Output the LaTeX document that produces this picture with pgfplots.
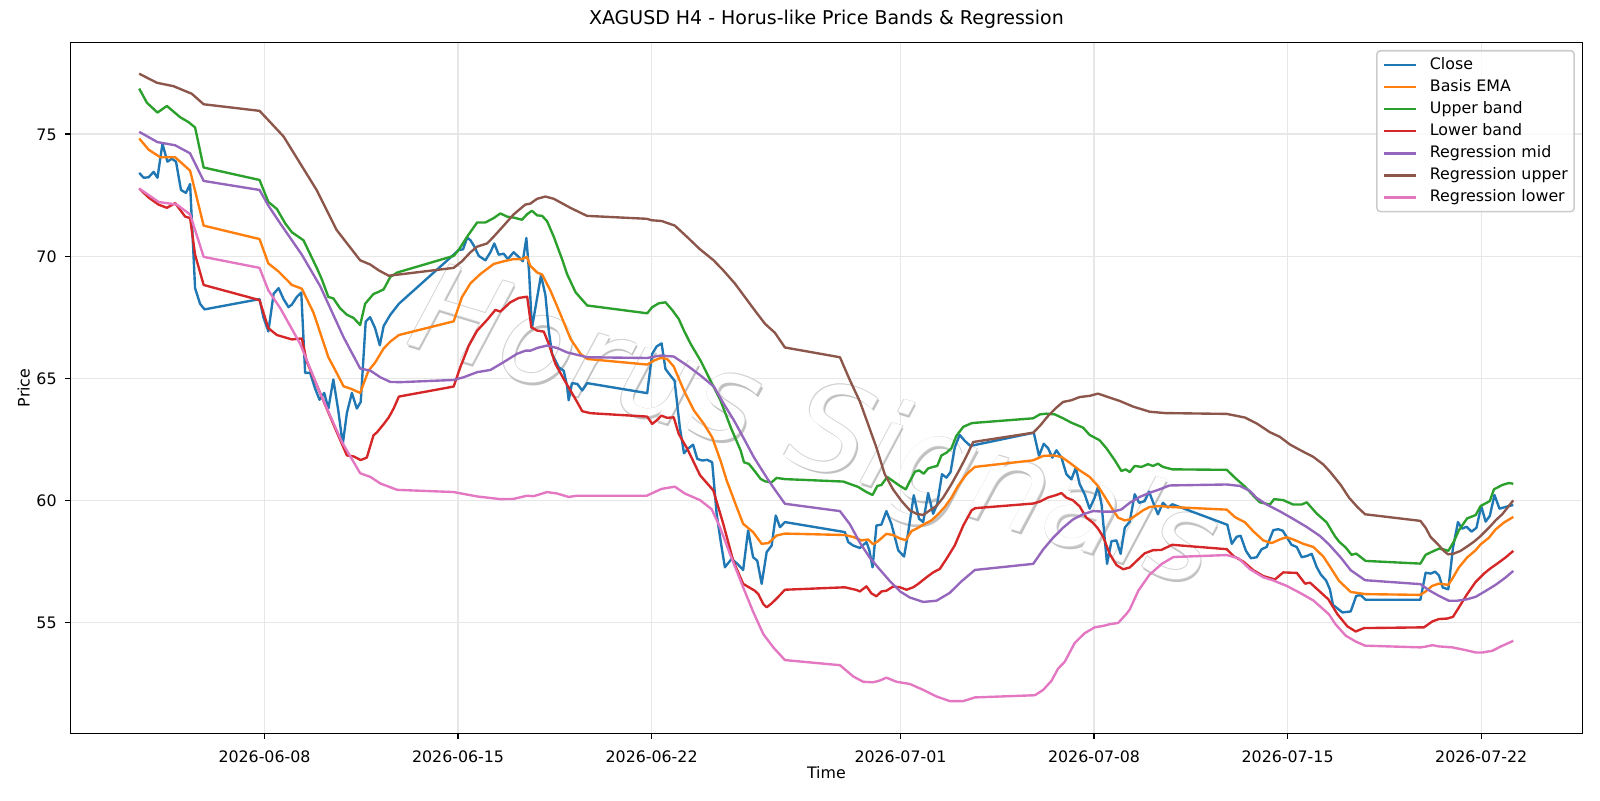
\documentclass[border=0pt]{standalone}
\usepackage{fontspec}
\setmainfont{DejaVu Sans}
\usepackage{pgfplots}
\pgfplotsset{compat=1.18}

\definecolor{cClose}{HTML}{1F77B4}
\definecolor{cEMA}{HTML}{FF7F0E}
\definecolor{cUp}{HTML}{2CA02C}
\definecolor{cLow}{HTML}{D62728}
\definecolor{cMid}{HTML}{9467BD}
\definecolor{cRUp}{HTML}{8C564B}
\definecolor{cRLow}{HTML}{E377C2}
\definecolor{gridgray}{HTML}{E7E7E7}
\definecolor{wmline}{HTML}{D2D2D2}
\definecolor{wmshadow}{HTML}{B0B0B0}
\tikzset{wm/.style={rotate=-17, font=\fontsize{88}{88}\selectfont\itshape}}

% x values are days after 2026-06-01 (00:00)
\begin{document}
\begin{tikzpicture}
\path[use as bounding box] (-50.95pt,-48.2pt) rectangle (1105.2pt,529.9pt);
\begin{axis}[
  at={(0,0)}, anchor=south west,
  width=1092.4pt, height=499.2pt, scale only axis,
  xmin=-0.015, xmax=54.655, ymin=50.46, ymax=78.75,
  xtick={7,14,21,30,37,44,51},
  xticklabels={\mbox{2026-06-08},\mbox{2026-06-15},\mbox{2026-06-22},\mbox{2026-07-01},\mbox{2026-07-08},\mbox{2026-07-15},\mbox{2026-07-22}},
  ytick={55,60,65,70,75},
  /pgf/number format/assume math mode=true,
  tick label style={font=\fontsize{11.43}{13}\selectfont},
  xticklabel style={anchor=base, yshift=-16.8pt},
  yticklabel style={anchor=base east, xshift=-2.5pt, yshift=-4.34pt},
  tick align=outside, tick pos=left,
  major tick length=4pt,
  every tick/.style={black, line width=0.914pt},
  axis line style={line width=0.914pt},
  grid=major, grid style={gridgray, line width=0.914pt},
  title={XAGUSD H4 - Horus-like Price Bands \& Regression},
  title style={at={(axis description cs:0.5,1.01374)}, anchor=base, font=\fontsize{13.71}{16}\selectfont},
  xlabel={Time},
  xlabel style={at={(axis description cs:0.5,-0.0653)}, anchor=base, font=\fontsize{11.43}{13}\selectfont},
  ylabel={Price},
  ylabel style={at={(axis description cs:-0.027,0.5)}, anchor=base, rotate=0, font=\fontsize{11.43}{13}\selectfont},
  every axis plot/.append style={line width=1.714pt, line join=round, no markers},
  legend cell align=left,
  legend image code/.code={\draw[#1] (0pt,0pt) -- (22.9pt,0pt);},
  legend style={at={(0.99515,0.98918)}, anchor=north east,
    draw=black!20, line width=1.14pt, fill=white, fill opacity=0.8, draw opacity=1, text opacity=1,
    rounded corners=2.5pt, font=\fontsize{11.43}{13}\selectfont,
    inner xsep=4.57pt, inner ysep=4.57pt, row sep=4.9pt,
    nodes={inner sep=0pt, text height=8.7pt, text depth=2.4pt},
    /tikz/every odd column/.append style={column sep=9.1pt}},
]

% watermark, drawn first so that the series lie over it
\node[wm, text=wmshadow, opacity=0.8, xshift=1.6pt, yshift=-1.6pt] at (axis cs:26.82,62.75) {Horus Signals};
\node[wm, text=wmline, xshift=0.45pt] at (axis cs:26.82,62.75) {Horus Signals};
\node[wm, text=wmline, xshift=-0.45pt] at (axis cs:26.82,62.75) {Horus Signals};
\node[wm, text=wmline, yshift=0.45pt] at (axis cs:26.82,62.75) {Horus Signals};
\node[wm, text=wmline, yshift=-0.45pt] at (axis cs:26.82,62.75) {Horus Signals};
\node[wm, text=white] at (axis cs:26.82,62.75) {Horus Signals};

% Close
\addplot[cClose] coordinates {
(2.47,73.41) (2.63,73.21) (2.81,73.23) (2.99,73.45) (3.13,73.21) (3.31,74.60) (3.49,73.87) (3.65,73.99) (3.80,73.87) (3.98,72.71) (4.16,72.59) (4.31,72.95) (4.49,68.69) (4.67,68.05) (4.83,67.82)
(6.82,68.24) (6.96,67.50) (7.14,66.92) (7.33,68.46) (7.51,68.69) (7.69,68.24) (7.87,67.91) (7.99,68.02) (8.17,68.33) (8.33,68.51) (8.47,65.22) (8.65,65.22) (8.83,64.58) (8.99,64.12) (9.16,64.40) (9.31,63.76) (9.49,64.95) (9.67,63.67) (9.83,62.29) (9.98,63.58) (10.16,64.40) (10.34,63.76) (10.48,64.03) (10.66,67.32) (10.82,67.50) (11.00,67.05) (11.17,66.35) (11.31,67.14) (11.55,67.60) (11.86,68.05)
(13.84,70.06) (14.02,70.25) (14.18,70.28) (14.33,70.76) (14.45,70.65) (14.57,70.43) (14.75,70.01) (14.99,69.83) (15.17,70.16) (15.31,70.52) (15.47,70.06) (15.65,70.10) (15.80,69.88) (16.01,70.16) (16.19,69.97) (16.34,69.79) (16.47,70.74) (16.57,69.33) (16.67,67.05) (16.83,68.10) (17.00,69.22) (17.16,68.40) (17.28,66.95) (17.40,66.00) (17.64,65.45) (17.82,65.31) (17.94,64.70) (18.00,64.10) (18.12,64.80) (18.31,64.77) (18.49,64.50) (18.67,64.80)
(20.84,64.39) (21.02,66.00) (21.18,66.30) (21.36,66.43) (21.50,65.38) (21.68,65.11) (21.83,64.90) (22.02,62.99) (22.17,61.93) (22.31,62.11) (22.50,62.28) (22.65,61.70) (22.83,61.63) (23.01,61.66) (23.19,61.56) (23.35,59.46) (23.50,58.30) (23.65,57.26) (23.89,57.60) (24.10,57.40) (24.31,57.15) (24.49,58.77) (24.67,57.67) (24.82,57.53) (24.98,56.58) (25.16,57.88) (25.34,58.15) (25.49,59.38) (25.64,58.90) (25.82,59.11)
(27.99,58.70) (28.11,58.29) (28.29,58.15) (28.53,58.05) (28.77,58.29) (28.87,57.97) (28.99,57.26) (29.13,58.97) (29.31,59.01) (29.49,59.56) (29.67,59.04) (29.92,57.95) (30.13,57.70) (30.28,58.70) (30.48,60.21) (30.67,59.25) (30.82,59.11) (31.00,60.30) (31.18,59.45) (31.33,59.86) (31.50,61.07) (31.66,60.93) (31.81,61.16) (31.96,62.16) (32.14,62.68) (32.33,62.43) (32.53,62.23)
(34.82,62.77) (35.01,61.82) (35.18,62.32) (35.34,62.13) (35.49,61.75) (35.64,62.05) (35.82,61.75) (36.00,61.07) (36.18,60.86) (36.34,61.34) (36.48,60.66) (36.66,60.25) (36.84,59.66) (37.02,60.11) (37.14,60.55) (37.27,59.84) (37.47,57.40) (37.63,58.33) (37.81,58.36) (37.96,57.81) (38.11,58.88) (38.29,59.13) (38.47,60.25) (38.63,59.90) (38.83,59.97) (38.99,60.36) (39.16,59.84) (39.31,59.43) (39.49,59.90) (39.67,59.70) (39.83,59.84)
(41.82,59.00) (41.98,58.22) (42.16,58.51) (42.30,58.55) (42.49,57.94) (42.67,57.63) (42.88,57.67) (43.06,58.00) (43.24,58.09) (43.48,58.78) (43.66,58.82) (43.82,58.76) (43.96,58.51) (44.14,58.18) (44.33,58.09) (44.51,57.67) (44.69,57.72) (44.87,57.81) (45.05,57.27) (45.20,56.96) (45.39,56.72) (45.53,56.35) (45.64,55.72) (45.98,55.41) (46.28,55.45) (46.48,56.09) (46.64,56.12) (46.82,55.93)
(48.80,55.93) (48.99,57.04) (49.17,57.00) (49.33,57.08) (49.47,56.93) (49.61,56.43) (49.81,56.36) (49.98,58.07) (50.16,59.11) (50.31,58.84) (50.47,58.92) (50.65,58.72) (50.83,58.88) (51.00,59.77) (51.16,59.13) (51.31,59.36) (51.48,60.22) (51.66,59.66) (51.88,59.73) (52.16,59.81)
};
\addlegendentry{Close}

% Basis EMA
\addplot[cEMA] coordinates {
(2.47,74.82) (2.81,74.36) (3.23,74.05) (3.77,74.05) (4.31,73.50) (4.80,71.25) (6.82,70.70) (7.14,69.70) (7.51,69.37) (7.99,68.82) (8.35,68.67) (8.77,67.69) (9.31,65.86) (9.55,65.35) (9.86,64.67) (10.10,64.58) (10.46,64.40) (10.76,65.31) (11.00,65.64) (11.31,66.22) (11.55,66.50) (11.86,66.77)
(13.84,67.33) (14.14,68.32) (14.45,68.89) (14.81,69.27) (15.29,69.68) (15.65,69.79) (16.01,69.88) (16.31,69.88) (16.49,69.97) (16.61,69.61) (16.86,69.33) (17.04,69.25) (17.34,68.59) (17.70,67.63) (18.07,66.61) (18.43,66.00) (18.67,65.79)
(20.84,65.56) (21.08,65.72) (21.32,65.83) (21.56,65.79) (21.80,65.48) (22.17,64.49) (22.53,63.68) (22.89,63.13) (23.19,62.58) (23.49,61.63) (23.71,60.83) (24.07,59.74) (24.31,59.04) (24.67,58.70) (24.98,58.22) (25.22,58.25) (25.52,58.56) (25.82,58.64)
(27.99,58.58) (28.29,58.50) (28.59,58.36) (28.83,58.40) (29.01,58.20) (29.19,58.33) (29.49,58.63) (29.73,58.58) (29.98,58.44) (30.19,58.37) (30.40,58.74) (30.64,58.88) (30.88,59.04) (31.12,59.18) (31.36,59.43) (31.60,59.73) (31.84,60.11) (32.08,60.59) (32.39,61.07) (32.69,61.37)
(34.80,61.64) (35.16,61.82) (35.52,61.84) (35.82,61.78) (36.12,61.54) (36.48,61.23) (36.84,60.96) (37.14,60.59) (37.39,60.14) (37.63,59.70) (37.87,59.29) (38.11,59.18) (38.29,59.22) (38.53,59.40) (38.77,59.59) (39.01,59.73) (39.37,59.77) (39.73,59.73)
(41.80,59.62) (42.10,59.31) (42.46,59.10) (42.76,58.73) (43.12,58.36) (43.42,58.25) (43.72,58.40) (43.96,58.49) (44.20,58.40) (44.57,58.22) (44.93,58.09) (45.29,57.70) (45.55,57.25) (45.86,56.70) (46.28,56.25) (46.82,56.16)
(48.80,56.13) (48.99,56.27) (49.23,56.50) (49.47,56.59) (49.81,56.54) (49.98,56.84) (50.19,57.25) (50.49,57.66) (50.80,57.96) (50.98,58.20) (51.28,58.47) (51.52,58.81) (51.82,59.09) (52.16,59.32)
};
\addlegendentry{Basis EMA}

% Upper band
\addplot[cUp] coordinates {
(2.47,76.86) (2.75,76.28) (3.13,75.88) (3.47,76.15) (3.95,75.69) (4.25,75.49) (4.49,75.27) (4.80,73.63) (6.82,73.12) (7.14,72.22) (7.45,71.93) (7.75,71.34) (7.99,70.98) (8.41,70.65) (8.89,69.52) (9.07,69.06) (9.31,68.33) (9.49,68.27) (9.73,67.87) (9.98,67.60) (10.22,67.47) (10.46,67.18) (10.64,68.05) (10.94,68.45) (11.07,68.51) (11.31,68.64) (11.55,69.15) (11.80,69.33)
(13.84,70.01) (14.02,70.25) (14.33,70.80) (14.69,71.38) (14.99,71.38) (15.29,71.56) (15.53,71.75) (15.77,71.62) (16.01,71.58) (16.31,71.49) (16.49,71.71) (16.67,71.86) (16.86,71.67) (17.04,71.65) (17.22,71.43) (17.46,70.80) (17.76,69.88) (17.94,69.27) (18.25,68.52) (18.67,67.98)
(20.84,67.66) (21.02,67.91) (21.26,68.07) (21.50,68.11) (21.74,67.80) (21.98,67.43) (22.17,66.95) (22.41,66.41) (22.77,65.72) (23.13,64.90) (23.49,64.09) (23.86,62.99) (24.22,62.04) (24.34,61.56) (24.52,61.49) (24.76,61.15) (24.94,60.88) (25.10,60.78) (25.34,60.74) (25.52,60.92) (25.82,60.87)
(27.93,60.77) (28.47,60.55) (28.77,60.34) (28.99,60.22) (29.16,60.59) (29.31,60.63) (29.52,60.96) (29.73,60.79) (29.98,60.59) (30.19,60.45) (30.34,60.79) (30.52,61.17) (30.67,61.23) (30.84,61.09) (31.00,61.31) (31.18,61.37) (31.33,61.41) (31.48,61.84) (31.66,61.95) (31.84,62.13) (32.02,62.64) (32.27,63.01) (32.57,63.16) (32.75,63.18)
(34.80,63.36) (35.04,63.52) (35.28,63.55) (35.58,63.52) (35.88,63.36) (36.18,63.18) (36.60,62.98) (36.84,62.68) (37.20,62.46) (37.45,62.13) (37.75,61.64) (37.99,61.20) (38.14,61.27) (38.29,61.16) (38.47,61.41) (38.71,61.37) (38.95,61.48) (39.13,61.41) (39.31,61.50) (39.49,61.37) (39.83,61.27)
(41.80,61.25) (42.10,60.92) (42.46,60.56) (42.76,60.19) (43.00,59.92) (43.36,59.83) (43.51,60.05) (43.84,60.01) (44.20,59.83) (44.51,59.83) (44.69,59.92) (45.05,59.46) (45.41,59.10) (45.70,58.55) (45.86,58.31) (46.10,58.07) (46.31,57.77) (46.48,57.82) (46.82,57.52)
(48.80,57.41) (48.99,57.77) (49.23,57.90) (49.47,58.02) (49.65,57.99) (49.81,57.93) (50.01,58.31) (50.19,58.77) (50.49,59.26) (50.80,59.40) (50.98,59.77) (51.31,59.97) (51.46,60.45) (51.76,60.63) (52.00,60.71) (52.16,60.68)
};
\addlegendentry{Upper band}

% Lower band
\addplot[cLow] coordinates {
(2.47,72.77) (2.81,72.40) (3.17,72.11) (3.47,71.98) (3.77,72.17) (4.13,71.62) (4.31,71.56) (4.49,70.06) (4.80,68.82) (6.82,68.20) (7.14,67.05) (7.45,66.77) (7.99,66.59) (8.35,66.63) (8.53,65.68) (9.01,64.40) (9.49,63.12) (9.98,61.84) (10.22,61.80) (10.48,61.65) (10.70,61.75) (10.94,62.66) (11.07,62.79) (11.31,63.12) (11.49,63.39) (11.67,63.76) (11.86,64.25)
(13.84,64.66) (14.08,65.45) (14.39,66.34) (14.69,66.95) (15.05,67.39) (15.35,67.80) (15.53,67.73) (15.89,68.11) (16.20,68.29) (16.50,68.34) (16.65,67.09) (16.86,66.95) (17.10,66.91) (17.28,66.41) (17.52,65.59) (17.82,64.97) (18.07,64.49) (18.31,64.02) (18.49,63.65) (18.79,63.57)
(20.84,63.43) (21.02,63.13) (21.20,63.29) (21.35,63.47) (21.56,63.38) (21.80,63.40) (21.98,62.72) (22.29,62.11) (22.75,61.03) (23.23,60.41) (23.59,59.04) (23.95,57.53) (24.31,56.58) (24.73,56.30) (24.86,56.16) (25.04,55.75) (25.16,55.62) (25.34,55.78) (25.58,56.05) (25.82,56.34)
(27.99,56.44) (28.41,56.33) (28.53,56.27) (28.77,56.48) (28.95,56.19) (29.13,56.07) (29.31,56.27) (29.49,56.30) (29.73,56.47) (29.98,56.44) (30.22,56.34) (30.46,56.44) (30.64,56.58) (30.94,56.85) (31.18,57.05) (31.42,57.19) (31.66,57.60) (31.96,58.15) (32.27,58.97) (32.57,59.59) (32.70,59.68)
(34.80,59.87) (35.04,59.95) (35.34,60.12) (35.64,60.22) (35.82,60.30) (36.00,60.11) (36.24,60.00) (36.48,59.75) (36.72,59.29) (36.96,59.08) (37.14,58.85) (37.33,58.50) (37.57,57.80) (37.81,57.35) (38.05,57.18) (38.29,57.25) (38.53,57.51) (38.83,57.83) (39.13,57.96) (39.43,57.97) (39.83,58.18)
(41.80,58.00) (42.04,57.72) (42.40,57.49) (42.76,57.14) (43.12,56.90) (43.54,56.76) (43.84,57.05) (44.33,57.03) (44.63,56.59) (44.81,56.63) (45.17,56.26) (45.47,55.95) (45.80,55.34) (46.16,54.84) (46.46,54.63) (46.76,54.77)
(48.93,54.80) (49.23,55.04) (49.47,55.14) (49.77,55.16) (49.98,55.23) (50.19,55.61) (50.49,56.16) (50.80,56.66) (51.10,57.00) (51.34,57.22) (51.58,57.41) (51.88,57.66) (52.16,57.93)
};
\addlegendentry{Lower band}

% Regression mid
\addplot[cMid] coordinates {
(2.47,75.09) (3.13,74.67) (3.77,74.54) (4.31,74.21) (4.80,73.08) (6.82,72.71) (7.14,72.07) (7.57,71.34) (8.35,70.06) (9.01,68.78) (9.86,66.68) (10.46,65.40) (10.83,65.31) (11.19,65.04) (11.55,64.85) (11.91,64.84)
(13.84,64.93) (14.20,65.04) (14.69,65.25) (15.17,65.34) (15.65,65.66) (16.13,66.00) (16.44,66.13) (16.62,66.13) (16.86,66.24) (17.22,66.34) (17.58,66.24) (17.94,66.06) (18.67,65.86)
(20.84,65.83) (21.32,65.93) (21.80,65.89) (22.29,65.52) (22.77,65.11) (23.25,64.66) (23.61,63.95) (23.98,63.27) (24.34,62.52) (24.70,61.76) (25.18,60.90) (25.45,60.45) (25.82,59.86)
(27.81,59.56) (28.17,59.02) (28.53,58.27) (28.89,57.65) (29.25,57.17) (29.61,56.70) (30.00,56.26) (30.34,56.02) (30.82,55.84) (31.30,55.89) (31.78,56.21) (32.20,56.68) (32.69,57.15)
(34.80,57.40) (35.16,57.99) (35.52,58.47) (35.88,58.88) (36.24,59.22) (36.60,59.43) (36.96,59.56) (37.33,59.54) (37.69,59.54) (37.99,59.63) (38.29,59.90) (38.65,60.14) (39.01,60.31) (39.37,60.45) (39.73,60.61)
(41.80,60.65) (42.28,60.59) (42.64,60.38) (42.88,60.10) (43.24,59.83) (43.72,59.55) (44.20,59.24) (44.69,58.91) (45.17,58.54) (45.49,58.20) (45.92,57.66) (46.28,57.14) (46.80,56.73)
(48.80,56.57) (49.11,56.32) (49.47,56.09) (49.83,55.89) (50.13,55.89) (50.49,55.95) (50.80,56.05) (51.16,56.29) (51.52,56.54) (51.88,56.84) (52.16,57.11)
};
\addlegendentry{Regression mid}

% Regression upper
\addplot[cRUp] coordinates {
(2.47,77.47) (3.11,77.10) (3.71,76.96) (4.37,76.65) (4.80,76.22) (6.82,75.95) (7.08,75.64) (7.69,74.90) (8.29,73.80) (8.89,72.70) (9.61,71.07) (10.46,69.83) (10.82,69.66) (11.13,69.42) (11.49,69.20) (11.80,69.24)
(13.84,69.52) (14.14,69.79) (14.45,70.16) (14.69,70.39) (15.05,70.52) (15.29,70.80) (15.65,71.25) (16.01,71.71) (16.43,72.11) (16.61,72.15) (16.86,72.35) (17.16,72.44) (17.46,72.35) (18.06,71.98) (18.66,71.65)
(20.82,71.53) (21.00,71.47) (21.36,71.44) (21.84,71.25) (22.27,70.80) (22.75,70.28) (23.23,69.84) (23.59,69.42) (24.01,68.88) (24.37,68.33) (24.73,67.78) (25.10,67.23) (25.46,66.86) (25.82,66.26)
(27.81,65.86) (28.17,64.92) (28.53,64.05) (28.83,63.11) (29.13,62.16) (29.43,61.07) (29.73,60.45) (30.04,59.97) (30.34,59.59) (30.58,59.45) (30.82,59.40) (31.06,59.59) (31.30,59.77) (31.54,60.11) (31.84,60.66) (32.14,61.27) (32.39,61.82) (32.63,62.39)
(34.80,62.77) (35.04,63.05) (35.34,63.46) (35.64,63.80) (35.88,64.03) (36.18,64.10) (36.48,64.23) (36.84,64.28) (37.14,64.37) (37.51,64.23) (37.93,64.07) (38.41,63.84) (39.01,63.63) (39.61,63.57) (39.87,63.57)
(41.80,63.54) (42.46,63.39) (42.88,63.15) (43.36,62.79) (43.72,62.60) (44.08,62.29) (44.45,62.06) (44.93,61.78) (45.29,61.47) (45.55,61.15) (45.92,60.63) (46.22,60.11) (46.52,59.73) (46.80,59.43)
(48.80,59.16) (48.99,58.88) (49.17,58.50) (49.41,58.23) (49.65,57.93) (49.80,57.79) (50.01,57.82) (50.25,57.93) (50.49,58.11) (50.73,58.30) (50.98,58.54) (51.28,58.88) (51.52,59.18) (51.76,59.43) (52.16,60.00)
};
\addlegendentry{Regression upper}

% Regression lower
\addplot[cRLow] coordinates {
(2.47,72.77) (3.17,72.22) (3.83,72.11) (4.31,71.71) (4.80,69.97) (6.82,69.52) (7.14,68.60) (7.57,67.87) (8.29,66.41) (9.01,64.40) (9.80,62.39) (10.46,61.11) (10.83,60.96) (11.19,60.69) (11.80,60.43)
(13.84,60.34) (14.69,60.16) (15.53,60.05) (16.01,60.06) (16.49,60.19) (16.73,60.17) (17.22,60.34) (17.58,60.28) (18.00,60.14) (18.30,60.19)
(20.82,60.19) (21.36,60.47) (21.84,60.56) (22.20,60.28) (22.75,60.01) (23.17,59.64) (23.47,58.91) (23.83,57.81) (24.31,56.44) (24.67,55.44) (25.04,54.52) (25.40,53.98) (25.82,53.46)
(27.81,53.25) (28.29,52.79) (28.65,52.57) (29.01,52.55) (29.25,52.62) (29.49,52.74) (29.86,52.57) (30.34,52.48) (30.82,52.24) (31.30,51.97) (31.78,51.78) (32.27,51.78) (32.69,51.93)
(34.86,52.02) (35.16,52.24) (35.46,52.61) (35.70,53.11) (35.94,53.39) (36.30,54.16) (36.66,54.56) (37.02,54.80) (37.33,54.86) (37.57,54.93) (37.87,54.98) (38.17,55.35) (38.29,55.53) (38.60,56.30) (39.00,56.95) (39.45,57.40) (39.87,57.68)
(41.80,57.76) (42.22,57.63) (42.64,57.18) (43.12,56.85) (43.48,56.72) (43.96,56.50) (44.45,56.21) (44.93,55.90) (45.49,55.34) (45.73,54.93) (46.10,54.46) (46.46,54.22) (46.80,54.05)
(48.80,53.98) (48.99,54.01) (49.23,54.07) (49.47,54.02) (49.95,53.98) (50.43,53.87) (50.80,53.77) (51.04,53.77) (51.40,53.84) (51.70,54.01) (52.16,54.25)
};
\addlegendentry{Regression lower}

\end{axis}
\end{tikzpicture}
\end{document}
